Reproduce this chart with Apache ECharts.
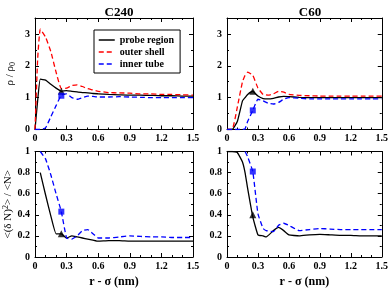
<!DOCTYPE html>
<html><head><meta charset="utf-8">
<script src="https://cdn.jsdelivr.net/npm/echarts@6/dist/echarts.min.js"></script>
<style>html,body{margin:0;padding:0;background:#fff}#c{width:391px;height:289px}</style>
</head><body><div id="c"></div>
<script>
// ---- data ----
const panelTitles = ['C240', 'C60'];
const seriesNames = ['probe region', 'outer shell', 'inner tube'];
const xTickLabels = ['0', '0.3', '0.6', '0.9', '1.2', '1.5'];

// C240 density
const xRhoC240 = [0, 0.025, 0.05, 0.1, 0.15, 0.2, 0.25, 0.3, 0.35, 0.4, 0.45, 0.5, 0.55, 0.6, 0.7, 0.8, 0.9, 1.0, 1.1, 1.2, 1.3, 1.4, 1.5];
const rhoC240Probe = [0, 0.9, 1.58, 1.55, 1.42, 1.3, 1.2, 1.22, 1.2, 1.18, 1.16, 1.15, 1.13, 1.12, 1.1, 1.09, 1.08, 1.08, 1.07, 1.06, 1.06, 1.05, 1.05];
const rhoC240Outer = [0, 2.2, 3.15, 2.9, 2.45, 1.8, 1.28, 1.3, 1.38, 1.4, 1.35, 1.28, 1.24, 1.2, 1.16, 1.15, 1.14, 1.12, 1.12, 1.1, 1.1, 1.09, 1.08];
const rhoC240Inner = [0, 0, 0, 0.05, 0.4, 0.75, 1.08, 1.12, 1.0, 0.95, 1.0, 1.05, 1.04, 1.02, 1.02, 1.03, 1.02, 1.01, 1.0, 1.0, 1.0, 1.0, 1.0];

// C60 density
const xRhoC60 = [0, 0.05, 0.1, 0.15, 0.175, 0.2, 0.25, 0.3, 0.35, 0.4, 0.45, 0.5, 0.55, 0.6, 0.7, 0.8, 0.9, 1.0, 1.1, 1.2, 1.3, 1.4, 1.5];
const rhoC60Probe = [0, 0, 0.25, 0.9, 1.0, 1.1, 1.2, 1.05, 0.97, 0.96, 0.98, 1.02, 1.04, 1.03, 1.01, 1.0, 1.0, 1.0, 1.0, 1.0, 1.0, 1.0, 1.0];
const rhoC60Outer = [0, 0, 0.7, 1.5, 1.7, 1.8, 1.7, 1.3, 1.1, 1.08, 1.12, 1.2, 1.17, 1.1, 1.07, 1.06, 1.05, 1.05, 1.05, 1.05, 1.05, 1.05, 1.05];
const rhoC60Inner = [0, 0, 0, 0, 0.02, 0.25, 0.6, 0.95, 0.9, 0.82, 0.8, 0.85, 0.95, 1.0, 0.98, 0.96, 0.96, 0.96, 0.96, 0.96, 0.96, 0.96, 0.96];

// C240 fluctuations
const xFlucC240 = [0.05, 0.1, 0.15, 0.2, 0.25, 0.3, 0.35, 0.4, 0.45, 0.5, 0.55, 0.6, 0.7, 0.8, 0.9, 1.0, 1.1, 1.2, 1.3, 1.4, 1.5];
const flucC240Probe = [0.8, 0.59, 0.39, 0.22, 0.22, 0.18, 0.2, 0.19, 0.18, 0.17, 0.16, 0.15, 0.155, 0.155, 0.15, 0.15, 0.15, 0.15, 0.15, 0.15, 0.15];
const flucC240Inner = [1.0, 0.93, 0.78, 0.6, 0.43, 0.18, 0.17, 0.2, 0.25, 0.26, 0.22, 0.18, 0.18, 0.19, 0.2, 0.195, 0.19, 0.19, 0.185, 0.185, 0.185];

// C60 fluctuations
const xFlucC60 = [0, 0.05, 0.1, 0.15, 0.175, 0.2, 0.25, 0.3, 0.35, 0.38, 0.45, 0.5, 0.55, 0.6, 0.7, 0.8, 0.9, 1.0, 1.1, 1.2, 1.3, 1.4, 1.5];
const flucC60Probe = [1.0, 1.0, 0.99, 0.9, 0.8, 0.65, 0.38, 0.21, 0.2, 0.19, 0.25, 0.28, 0.25, 0.21, 0.2, 0.21, 0.215, 0.21, 0.205, 0.205, 0.2, 0.2, 0.2];
const flucC60Inner = [null, null, null, null, 1.0, 0.95, 0.81, 0.41, 0.27, 0.25, 0.24, 0.3, 0.32, 0.3, 0.25, 0.26, 0.27, 0.265, 0.26, 0.26, 0.26, 0.26, 0.26];

// markers at r - sigma = 0.25 : [x, y]
const markC240RhoTri = [0.25, 1.2], markC240RhoSq = [0.25, 1.06];
const markC60RhoTri = [0.25, 1.2], markC60RhoSq = [0.25, 0.6];
const markC240FlucTri = [0.25, 0.22], markC240FlucSq = [0.25, 0.43];
const markC60FlucTri = [0.25, 0.4], markC60FlucSq = [0.25, 0.81];

// ---- chart ----
function pairs(xs, ys) { const out = []; xs.forEach((x, i) => { if (ys[i] != null) out.push([x, ys[i]]); }); return out; }
const SERIF = 'Liberation Serif';
const colors = { 'probe region': '#000000', 'outer shell': '#ff0000', 'inner tube': '#0000ff' };
const grids = [
  { left: 35, top: 18, width: 158, height: 111.5 },
  { left: 227, top: 18, width: 156, height: 111.5 },
  { left: 35, top: 151.5, width: 158, height: 111.5 },
  { left: 227, top: 151.5, width: 156, height: 111.5 }
];
const xAxes = [], yAxes = [];
grids.forEach((g, i) => {
  const isBottom = i >= 2;
  const base = {
    type: 'value', gridIndex: i, min: 0, max: 1.5, interval: 0.3,
    axisLine: { show: true, onZero: false, lineStyle: { color: '#000', width: 1 } },
    axisTick: { show: true, inside: true, length: 4, lineStyle: { color: '#000' } },
    minorTick: { show: true, splitNumber: 3, length: 2, lineStyle: { color: '#000' } },
    splitLine: { show: false }
  };
  xAxes.push(Object.assign({}, base, {
    position: 'bottom',
    axisLabel: { show: true, fontFamily: SERIF, fontWeight: 'bold', fontSize: 10, color: '#000', margin: 4,
      formatter: v => { const k = Math.round(v / 0.3); return Math.abs(v - k * 0.3) < 1e-6 ? xTickLabels[k] : ''; } },
    name: isBottom ? 'r - σ (nm)' : '', nameLocation: 'middle', nameGap: 19,
    nameTextStyle: { fontFamily: SERIF, fontWeight: 'bold', fontSize: 12, color: '#000' }
  }));
  xAxes.push(Object.assign({}, base, { position: 'top', axisLabel: { show: false } }));
  const ymax = isBottom ? 1 : 3.5, yint = isBottom ? 0.2 : 1;
  const ybase = {
    type: 'value', gridIndex: i, min: 0, max: ymax, interval: yint,
    axisLine: { show: true, onZero: false, lineStyle: { color: '#000', width: 1 } },
    axisTick: { show: true, inside: true, length: 4, lineStyle: { color: '#000' } },
    minorTick: { show: true, splitNumber: 2, length: 2, lineStyle: { color: '#000' } },
    splitLine: { show: false }
  };
  const left = i % 2 === 0;
  yAxes.push(Object.assign({}, ybase, {
    position: 'left',
    axisLabel: { show: true, fontFamily: SERIF, fontWeight: 'bold', fontSize: 10, color: '#000', margin: 5,
      formatter: v => {
        if (isBottom) { const r = Math.round(v * 10) / 10; return r === 0 ? '0' : (r === 1 ? '1' : String(r)); }
        return Number.isInteger(v) ? String(v) : '';
      } },
    name: left ? (isBottom ? '{a|<(δ N)}{sup|2}{a|> / <N>}' : '{a|ρ / ρ}{sub|0}') : '',
    nameLocation: 'middle', nameGap: isBottom ? 20 : 18,
    nameTextStyle: { fontFamily: SERIF, fontSize: 11, color: '#000',
      rich: {
        a: { fontFamily: SERIF, fontSize: 11, color: '#000' },
        sup: { fontFamily: SERIF, fontSize: 8, color: '#000', verticalAlign: 'top', padding: [0, 0, 5, 0] },
        sub: { fontFamily: SERIF, fontSize: 8, color: '#000', verticalAlign: 'bottom', padding: [5, 0, 0, 0] }
      } }
  }));
  yAxes.push(Object.assign({}, ybase, { position: 'right', axisLabel: { show: false } }));
});

const series = [];
function addLine(panel, name, xs, ys) {
  series.push({
    type: 'line', name: name, xAxisIndex: panel * 2, yAxisIndex: panel * 2,
    data: pairs(xs, ys), symbol: 'none', showSymbol: false, smooth: 0.12, animation: false,
    lineStyle: { color: colors[name], width: 1.3, type: name === 'probe region' ? 'solid' : [5, 3] },
    itemStyle: { color: colors[name] }
  });
}
function addMark(panel, pt, sym, color) {
  series.push({
    type: 'scatter', xAxisIndex: panel * 2, yAxisIndex: panel * 2, data: [pt],
    symbol: sym, symbolSize: sym === 'triangle' ? 7 : 6, itemStyle: { color: color }, animation: false, z: 5
  });
}
addLine(0, 'probe region', xRhoC240, rhoC240Probe);
addLine(0, 'outer shell', xRhoC240, rhoC240Outer);
addLine(0, 'inner tube', xRhoC240, rhoC240Inner);
addLine(1, 'probe region', xRhoC60, rhoC60Probe);
addLine(1, 'outer shell', xRhoC60, rhoC60Outer);
addLine(1, 'inner tube', xRhoC60, rhoC60Inner);
addLine(2, 'probe region', xFlucC240, flucC240Probe);
addLine(2, 'inner tube', xFlucC240, flucC240Inner);
addLine(3, 'probe region', xFlucC60, flucC60Probe);
addLine(3, 'inner tube', xFlucC60, flucC60Inner);
addMark(0, markC240RhoTri, 'triangle', '#000'); addMark(0, markC240RhoSq, 'rect', '#0000ff');
addMark(1, markC60RhoTri, 'triangle', '#000'); addMark(1, markC60RhoSq, 'rect', '#0000ff');
addMark(2, markC240FlucTri, 'triangle', '#000'); addMark(2, markC240FlucSq, 'rect', '#0000ff');
addMark(3, markC60FlucTri, 'triangle', '#000'); addMark(3, markC60FlucSq, 'rect', '#0000ff');

const chart = echarts.init(document.getElementById('c'), null, { renderer: 'canvas' });
chart.setOption({
  animation: false,
  backgroundColor: '#fff',
  title: [
    { text: panelTitles[0], left: 114, top: 1, textAlign: 'center', textStyle: { fontFamily: SERIF, fontWeight: 'bold', fontSize: 13, color: '#000' } },
    { text: panelTitles[1], left: 305, top: 1, textAlign: 'center', textStyle: { fontFamily: SERIF, fontWeight: 'bold', fontSize: 13, color: '#000' } }
  ],
  legend: {
    data: seriesNames, orient: 'vertical', left: 94, top: 30,
    borderColor: '#000', borderWidth: 1, backgroundColor: '#fff', padding: [5, 6, 4, 4],
    itemWidth: 16, itemHeight: 10, itemGap: 2,
    itemStyle: { opacity: 0 },
    lineStyle: { width: 1.5 },
    textStyle: { fontFamily: SERIF, fontWeight: 'bold', fontSize: 10, color: '#000' }
  },
  grid: grids,
  xAxis: xAxes,
  yAxis: yAxes,
  series: series
});
</script>
</body></html>
